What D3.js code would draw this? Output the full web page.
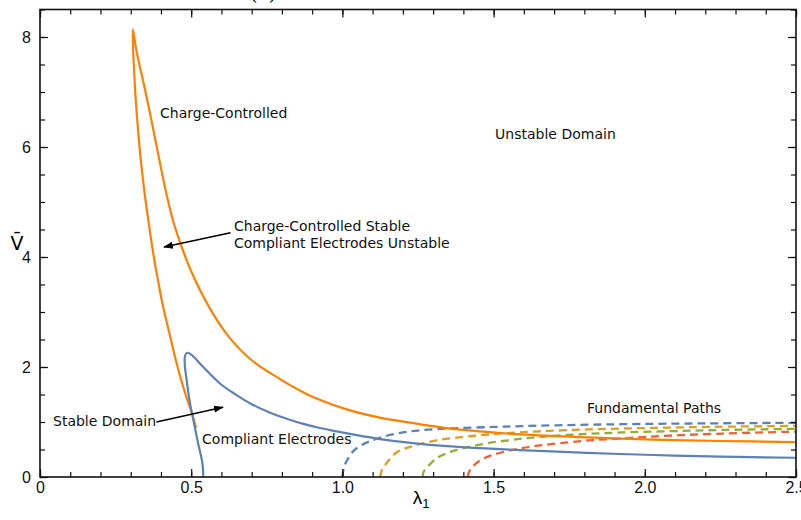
<!DOCTYPE html>
<html>
<head>
<meta charset="utf-8">
<script src="https://cdn.jsdelivr.net/npm/d3@7"></script>
<style>
  body { margin: 0; background: #fff; }
  svg { display: block; }
  .lbl { font-family: "DejaVu Sans", sans-serif; font-size: 14px; fill: #111; }
  .tick text { font-family: "Liberation Sans", Arial, sans-serif; font-size: 16px; fill: #111; }
</style>
</head>
<body>
<figure id="chart" style="margin:0"></figure>
<script>
// stability boundaries, [lambda1, Vbar]
const chargeControlled = [
  [0.516, 0.9], [0.50, 1.2], [0.485, 1.44], [0.465, 1.8], [0.445, 2.22], [0.425, 2.68],
  [0.405, 3.15], [0.39, 3.58], [0.375, 4.05], [0.36, 4.6], [0.345, 5.2], [0.331, 5.89],
  [0.32, 6.6], [0.312, 7.3], [0.3065, 8.14],
  [0.32, 7.72], [0.347, 7.05], [0.375, 6.31], [0.40, 5.62], [0.42, 5.1], [0.44, 4.66],
  [0.474, 4.1], [0.50, 3.74], [0.529, 3.40], [0.572, 2.97], [0.62, 2.58], [0.694, 2.15],
  [0.794, 1.78], [0.86, 1.57], [0.904, 1.45], [1.014, 1.23], [1.124, 1.08], [1.234, 0.98],
  [1.345, 0.89], [1.455, 0.83], [1.587, 0.775], [1.808, 0.72], [2.028, 0.68], [2.249, 0.655], [2.5, 0.635]
];
const compliant = [
  [0.54, 0], [0.537, 0.25], [0.523, 0.61], [0.507, 1.04], [0.496, 1.34], [0.485, 1.76],
  [0.479, 2.02], [0.479, 2.18], [0.484, 2.25], [0.492, 2.255], [0.507, 2.19], [0.54, 2.0],
  [0.595, 1.70], [0.65, 1.49], [0.705, 1.31], [0.761, 1.17], [0.816, 1.06], [0.871, 0.965],
  [0.926, 0.89], [0.981, 0.83], [1.069, 0.74], [1.124, 0.69], [1.234, 0.615], [1.345, 0.56],
  [1.455, 0.525], [1.587, 0.49], [1.808, 0.44], [2.028, 0.40], [2.249, 0.37], [2.5, 0.35]
];
// fundamental paths for four prestretches
const pathA = [
  [1.0, 0], [1.004, 0.15], [1.014, 0.29], [1.036, 0.47], [1.06, 0.57], [1.091, 0.65],
  [1.146, 0.75], [1.2, 0.81], [1.257, 0.85], [1.37, 0.885], [1.5, 0.91], [1.592, 0.925],
  [1.75, 0.945], [1.925, 0.96], [2.2, 0.975], [2.5, 0.985]
];
const pathB = [
  [1.125, 0], [1.13, 0.12], [1.147, 0.26], [1.18, 0.45], [1.22, 0.54], [1.258, 0.6],
  [1.31, 0.665], [1.37, 0.71], [1.45, 0.755], [1.536, 0.795], [1.65, 0.83], [1.814, 0.865],
  [2.0, 0.89], [2.2, 0.91], [2.5, 0.93]
];
const pathC = [
  [1.265, 0], [1.269, 0.1], [1.281, 0.18], [1.309, 0.33], [1.34, 0.42], [1.37, 0.48],
  [1.42, 0.55], [1.481, 0.615], [1.56, 0.675], [1.647, 0.725], [1.78, 0.775], [1.925, 0.81],
  [2.1, 0.835], [2.258, 0.855], [2.5, 0.875]
];
const pathD = [
  [1.414, 0], [1.418, 0.08], [1.425, 0.15], [1.44, 0.24], [1.458, 0.31], [1.49, 0.39],
  [1.536, 0.46], [1.59, 0.52], [1.647, 0.57], [1.72, 0.615], [1.814, 0.665], [1.92, 0.70],
  [2.036, 0.74], [2.258, 0.79], [2.5, 0.825]
];
const dashedPaths = [pathA, pathB, pathC, pathD];
const dashedColors = ["#5e81b5", "#e19c24", "#8fb032", "#eb6235"];

const xMajor = [0, 0.5, 1.0, 1.5, 2.0, 2.5];
const xMajorLabels = ["0", "0.5", "1.0", "1.5", "2.0", "2.5"];
const yMajor = [0, 2, 4, 6, 8];

const annotations = [
  { text: ["Charge-Controlled"], lam: 0.397, v: 6.52 },
  { text: ["Unstable Domain"], lam: 1.505, v: 6.14 },
  { text: ["Charge-Controlled Stable", "Compliant Electrodes Unstable"], lam: 0.6415, v: 4.48 },
  { text: ["Stable Domain"], lam: 0.043, v: 0.936 },
  { text: ["Compliant Electrodes"], lam: 0.536, v: 0.609 },
  { text: ["Fundamental Paths"], lam: 1.809, v: 1.155 }
];
const arrows = [
  { from: [0.63, 4.44], to: [0.41, 4.18] },
  { from: [0.385, 1.0], to: [0.605, 1.27] }
];

const width = 801, height = 520;
const x = d3.scaleLinear().domain([0, 2.5]).range([40, 796]);
const y = d3.scaleLinear().domain([0, 8.5]).range([477, 9.5]);

const svg = d3.select("figure#chart").append("svg")
  .attr("width", width).attr("height", height)
  .attr("viewBox", "0 0 " + width + " " + height);

svg.append("defs").append("marker")
  .attr("id", "head")
  .attr("viewBox", "0 0 10 10")
  .attr("refX", 9).attr("refY", 5)
  .attr("markerWidth", 10).attr("markerHeight", 10)
  .attr("markerUnits", "userSpaceOnUse")
  .attr("orient", "auto")
  .append("path").attr("d", "M0,1.5 L10,5 L0,8.5 z").attr("fill", "#000");

// cut-off title at the very top
svg.append("text")
  .attr("x", 250).attr("y", 0)
  .style("font-family", "DejaVu Serif, serif").style("font-size", "19px")
  .text("(a)");

const smooth = d3.line().x(d => x(d[0])).y(d => y(d[1])).curve(d3.curveCatmullRom.alpha(0.5));

const plot = svg.append("g");

dashedPaths.forEach((p, i) => {
  plot.append("path").datum(p)
    .attr("d", smooth)
    .attr("fill", "none")
    .attr("stroke", dashedColors[i])
    .attr("stroke-width", 2.3)
    .attr("stroke-dasharray", "8,5");
});

plot.append("path").datum(chargeControlled)
  .attr("d", smooth)
  .attr("fill", "none")
  .attr("stroke", "#ff8000")
  .attr("stroke-width", 2.2)
  .attr("stroke-linejoin", "round");

plot.append("path").datum(compliant)
  .attr("d", smooth)
  .attr("fill", "none")
  .attr("stroke", "#5e81b5")
  .attr("stroke-width", 2.2);

// annotations
annotations.forEach(a => {
  const t = svg.append("text").attr("class", "lbl")
    .attr("x", x(a.lam)).attr("y", y(a.v));
  a.text.forEach((s, i) => {
    t.append("tspan").attr("x", x(a.lam)).attr("dy", i === 0 ? 0 : 17).text(s);
  });
});

arrows.forEach(a => {
  svg.append("line")
    .attr("x1", x(a.from[0])).attr("y1", y(a.from[1]))
    .attr("x2", x(a.to[0])).attr("y2", y(a.to[1]))
    .attr("stroke", "#000").attr("stroke-width", 1.5)
    .attr("marker-end", "url(#head)");
});

// axes: labelled bottom/left, ticks only on top/right, all ticks inward
const xMinor = d3.range(0, 2.501, 0.1);
const yMinor = d3.range(0, 8.51, 0.5);

svg.append("g").attr("transform", "translate(0,477)")
  .call(d3.axisBottom(x).tickValues(xMinor).tickSize(-5).tickFormat(""));
svg.append("g").attr("transform", "translate(0,477)")
  .call(d3.axisBottom(x).tickValues(xMajor).tickSize(-8).tickPadding(5)
    .tickFormat((d, i) => xMajorLabels[i]));
svg.append("g").attr("transform", "translate(0,9.5)")
  .call(d3.axisTop(x).tickValues(xMinor).tickSize(-5).tickFormat(""));
svg.append("g").attr("transform", "translate(0,9.5)")
  .call(d3.axisTop(x).tickValues(xMajor).tickSize(-8).tickFormat(""));

svg.append("g").attr("transform", "translate(40,0)")
  .call(d3.axisLeft(y).tickValues(yMinor).tickSize(-5).tickFormat(""));
svg.append("g").attr("transform", "translate(40,0)")
  .call(d3.axisLeft(y).tickValues(yMajor).tickSize(-8).tickPadding(9).tickFormat(d3.format("d")));
svg.append("g").attr("transform", "translate(796,0)")
  .call(d3.axisRight(y).tickValues(yMinor).tickSize(-5).tickFormat(""));
svg.append("g").attr("transform", "translate(796,0)")
  .call(d3.axisRight(y).tickValues(yMajor).tickSize(-8).tickFormat(""));

svg.selectAll(".domain").remove();
svg.selectAll(".tick line").attr("stroke", "#111").attr("stroke-width", 1.2);

svg.append("rect")
  .attr("x", 40).attr("y", 9.5).attr("width", 756).attr("height", 467.5)
  .attr("fill", "none").attr("stroke", "#111").attr("stroke-width", 1.6);

// axis titles
svg.append("text")
  .attr("x", 421).attr("y", 504)
  .attr("text-anchor", "middle")
  .style("font-family", "Liberation Sans, Arial, sans-serif").style("font-size", "19px")
  .text("λ")
  .append("tspan").attr("dy", 4).style("font-size", "13px").text("1");

svg.append("text")
  .attr("x", 17).attr("y", 250)
  .attr("text-anchor", "middle")
  .style("font-family", "DejaVu Sans, sans-serif").style("font-size", "19px")
  .text("V\u0304");
</script>
</body>
</html>
